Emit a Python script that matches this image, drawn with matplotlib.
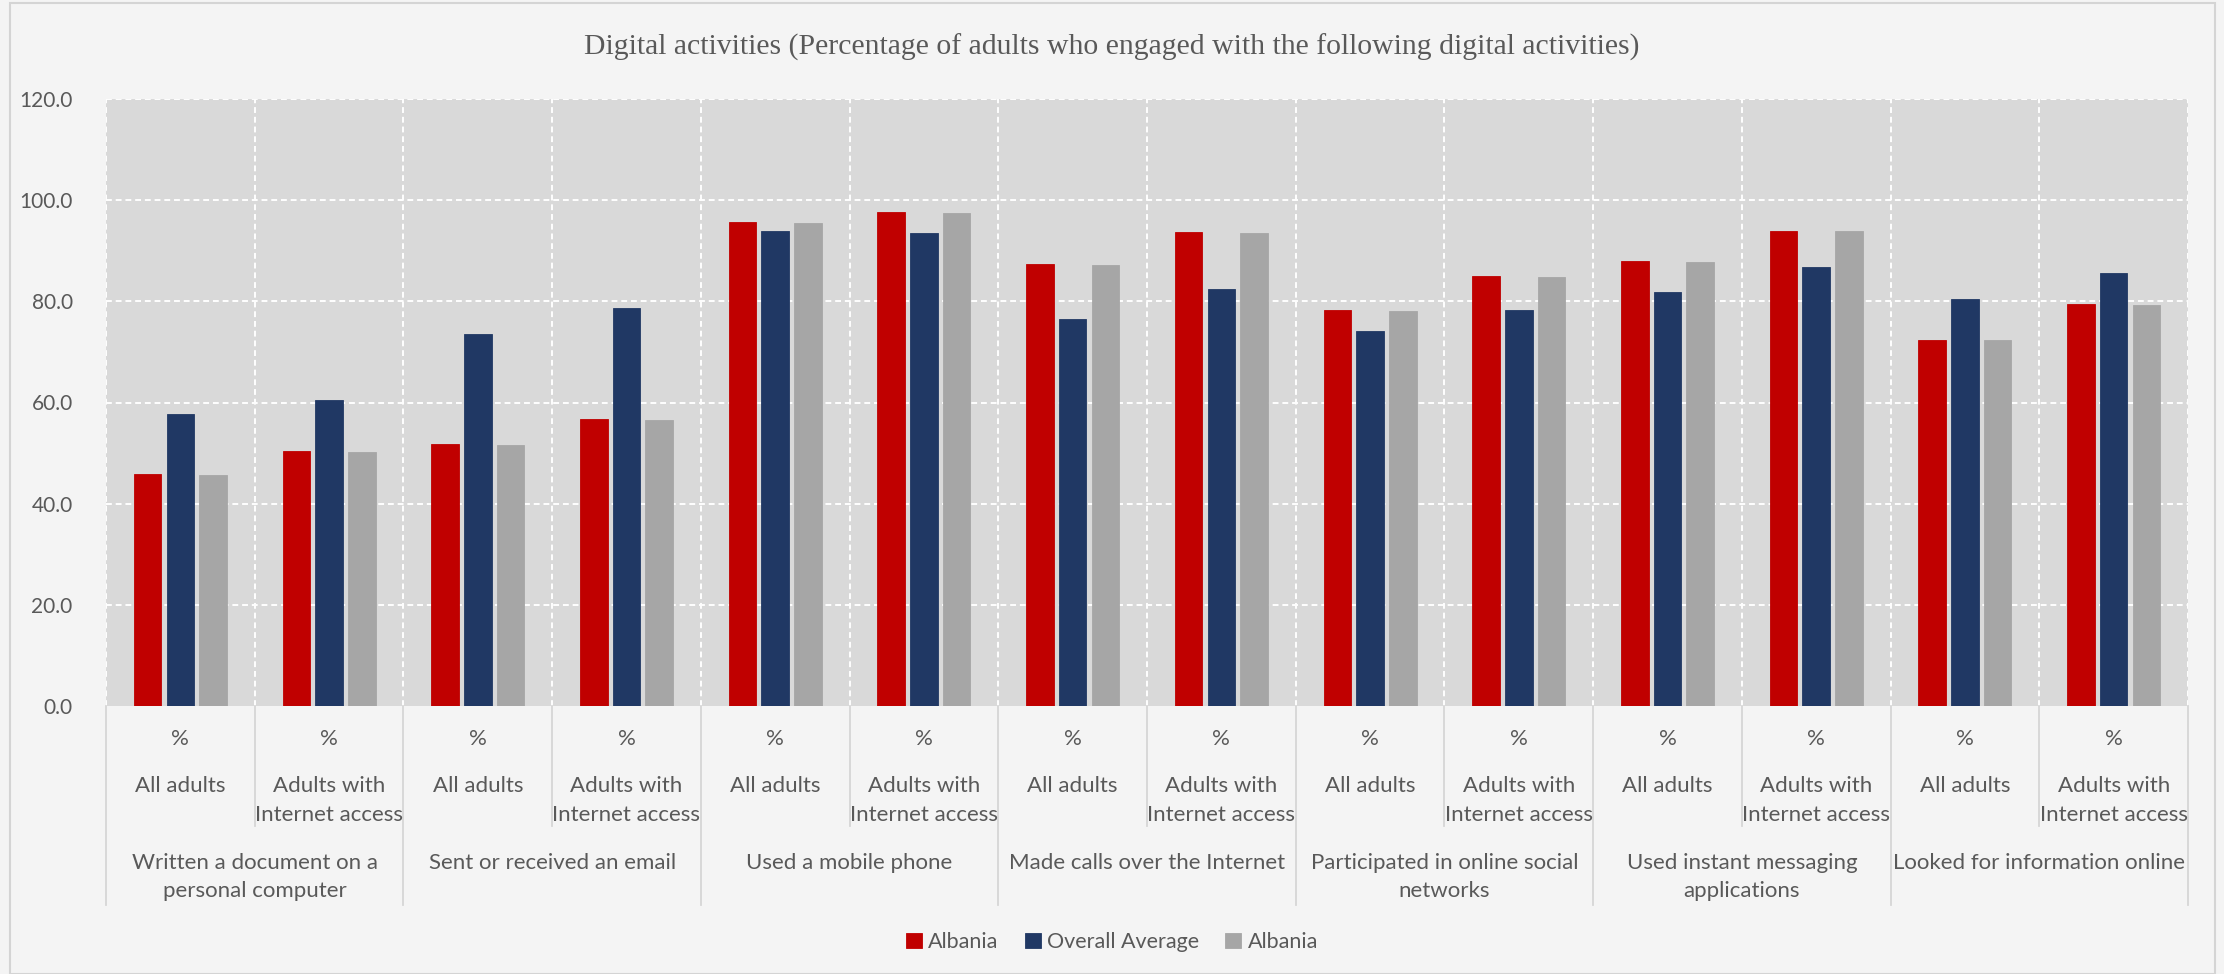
import numpy as np
import matplotlib
matplotlib.use("Agg")
import matplotlib.pyplot as plt
import matplotlib.transforms as mtransforms
from matplotlib.patches import Rectangle

# Values
groups = ["Written a document on a\npersonal computer", "Sent or received an email",
          "Used a mobile phone", "Made calls over the Internet",
          "Participated in online social\nnetworks", "Used instant messaging\napplications",
          "Looked for information online"]
subgroups = ["All adults", "Adults with\nInternet access"]
unit = "%"
series_names = ["Albania", "Overall Average", "Albania"]
albania = [45.9, 50.4, 51.8, 56.7, 95.7, 97.7, 87.4, 93.8, 78.2, 85.0, 87.9, 94.0, 72.4, 79.4]
overall = [57.8, 60.4, 73.6, 78.7, 94.0, 93.5, 76.6, 82.4, 74.2, 78.3, 81.9, 86.8, 80.5, 85.7]
albania2 = [45.6, 50.2, 51.6, 56.6, 95.4, 97.5, 87.2, 93.5, 78.0, 84.8, 87.7, 93.9, 72.3, 79.2]
yticks = [0, 20, 40, 60, 80, 100, 120]
colors = ["#C00000", "#203864", "#A6A6A6"]

txt = "#595959"
plt.rcParams['font.family'] = ['Lato', 'DejaVu Sans']

fig = plt.figure(figsize=(22.24, 9.74), dpi=100, facecolor="#f4f4f4")
fig.patches.append(Rectangle((10 / 2224, 0), 2205 / 2224, 1 - 3 / 974, transform=fig.transFigure,
                             facecolor="none", edgecolor="#d4d4d4", lw=1.5))
ax = fig.add_axes([106 / 2224, 1 - 706 / 974, (2188 - 106) / 2224, (706 - 99) / 974])
ax.set_facecolor("#d9d9d9")

n = len(albania)
x = np.arange(n)
w = 0.186
off = 0.22
for k, vals in enumerate([albania, overall, albania2]):
    ax.bar(x + (k - 1) * off, vals, width=w, color=colors[k], label=series_names[k],
           edgecolor=colors[k], linewidth=0.6, zorder=3)

ax.set_xlim(-0.5, n - 0.5)
ax.set_ylim(0, 120)
for s in ax.spines.values():
    s.set_visible(False)
dash = (0, (3, 2))
for yv in yticks[1:]:
    ax.axhline(yv, color="white", lw=1.4, ls=dash, zorder=1)
for xv in np.arange(-0.5, n, 1.0):
    ax.axvline(xv, color="white", lw=1.4, ls=dash, zorder=1)

ax.set_yticks(yticks)
ax.set_yticklabels([f"{v:.1f}" for v in yticks], color=txt, fontsize=15)
ax.tick_params(axis="y", length=0, pad=24)
ax.set_xticks([])

# category table below the plot
tr = mtransforms.blended_transform_factory(ax.transData, ax.transAxes)
for i in range(n):
    ax.text(i, -0.054, unit, transform=tr, ha="center", va="center", color=txt, fontsize=16)
    ax.text(i, -0.116, subgroups[i % 2], transform=tr, ha="center", va="top",
            color=txt, fontsize=16, linespacing=1.56)
for g, name in enumerate(groups):
    ax.text(2 * g + 0.5, -0.242, name, transform=tr, ha="center", va="top",
            color=txt, fontsize=16, linespacing=1.5)
for j in range(n + 1):
    xv = j - 0.5
    bottom = -0.328 if j % 2 == 0 else -0.198
    ax.plot([xv, xv], [0, bottom], transform=tr, color="#d6d6d6", lw=1.3, clip_on=False)

fig.text(0.5, 1 - 47 / 974,
         "Digital activities (Percentage of adults who engaged with the following digital activities)",
         ha="center", va="center", color=txt, fontsize=21.4, family="Liberation Serif")

fig.legend(loc="center", bbox_to_anchor=(0.5, 1 - 942 / 974), ncol=3, frameon=False,
           fontsize=15.5, handlelength=0.75, handleheight=0.75, handletextpad=0.3,
           columnspacing=1.2, labelcolor=txt)

fig.savefig("out.png", dpi=100, facecolor=fig.get_facecolor())
